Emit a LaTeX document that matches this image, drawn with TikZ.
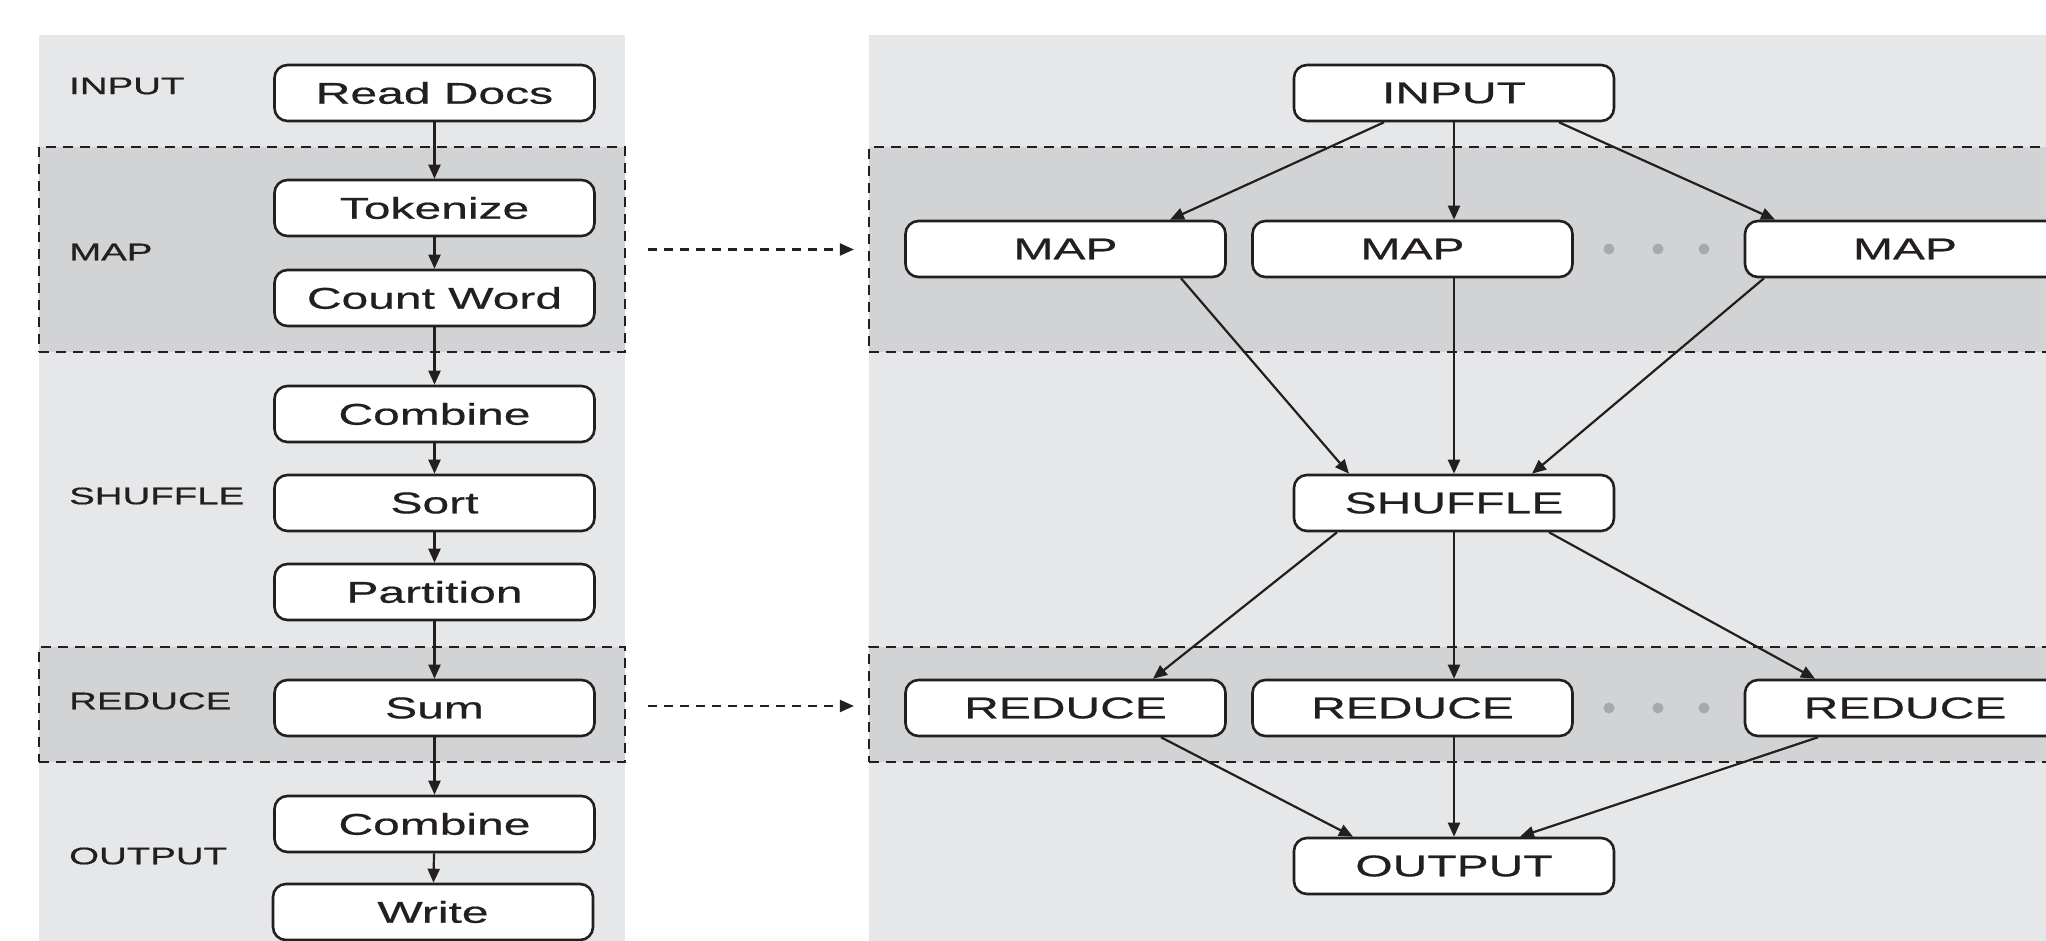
\documentclass[tikz,border=0pt]{standalone}
\usepackage{fontspec}
\setmainfont{Liberation Sans}[FakeStretch=1.6,FakeBold=0.6]
\usetikzlibrary{arrows.meta}
\definecolor{panel}{HTML}{E6E7E8}
\definecolor{bandc}{HTML}{D1D3D4}
\definecolor{ink}{HTML}{231F20}
\definecolor{dotc}{HTML}{A7A9AC}
\tikzset{
 box/.style={draw=ink, line width=2.6pt, fill=white, rounded corners=13pt, minimum width=320pt, minimum height=56pt, inner sep=0pt, font=\fontsize{30}{36}\selectfont, text=ink},
 lbl/.style={anchor=west, font=\fontsize{24}{28}\selectfont, text=ink, inner sep=0pt},
 arr/.style={draw=ink, line width=2.2pt, -{Triangle[length=14pt,width=12pt]}},
 dasharr/.style={draw=ink, line width=2.2pt, dash pattern=on 9pt off 7pt, -{Triangle[length=14pt,width=12pt]}},
 bandbox/.style={fill=bandc, draw=ink, line width=2.2pt, dash pattern=on 10pt off 7pt, inner sep=0pt},
 dotn/.style={circle, fill=dotc, minimum size=11pt, inner sep=0pt}
}
\begin{document}
\begin{tikzpicture}[x=1pt,y=-1pt]
\useasboundingbox (0,0) rectangle (2046,941);
\clip (0,0) rectangle (2046,941);
% panels
\fill[panel] (39,35) rectangle (625,980);
\fill[panel] (869,35) rectangle (2080,980);
% bands
\node[bandbox, minimum width=586pt, minimum height=205pt] (lmapband) at (332,249.5) {};
\node[bandbox, minimum width=586pt, minimum height=115pt] (lredband) at (332,704.5) {};
\node[bandbox, minimum width=1231pt, minimum height=205pt] (rmapband) at (1484.5,249.5) {};
\node[bandbox, minimum width=1231pt, minimum height=115pt] (rredband) at (1484.5,704.5) {};
% left labels
\node[lbl] (lin) at (69,86) {INPUT};
\node[lbl] (lmap) at (69,252) {MAP};
\node[lbl] (lsh) at (69,496) {SHUFFLE};
\node[lbl] (lred) at (69,701) {REDUCE};
\node[lbl] (lout) at (69,856) {OUTPUT};
% left boxes
\node[box] (rd) at (434.5,93) {Read Docs};
\node[box] (tok) at (434.5,208) {Tokenize};
\node[box] (cw) at (434.5,298) {Count Word};
\node[box] (comb1) at (434.5,414) {Combine};
\node[box] (sort) at (434.5,503) {Sort};
\node[box] (part) at (434.5,592) {Partition};
\node[box] (sum) at (434.5,708) {Sum};
\node[box] (comb2) at (434.5,824) {Combine};
\node[box] (write) at (433,912) {Write};
\draw[arr] (rd) -- (tok);
\draw[arr] (tok) -- (cw);
\draw[arr] (cw) -- (comb1);
\draw[arr] (comb1) -- (sort);
\draw[arr] (sort) -- (part);
\draw[arr] (part) -- (sum);
\draw[arr] (sum) -- (comb2);
\draw[arr] (comb2) -- (write);
% right boxes
\node[box] (in) at (1454,93) {INPUT};
\node[box] (m1) at (1065.5,249) {MAP};
\node[box] (m2) at (1412.5,249) {MAP};
\node[box] (m3) at (1905,249) {MAP};
\node[box] (sh) at (1454,503) {SHUFFLE};
\node[box] (r1) at (1065.5,708) {REDUCE};
\node[box] (r2) at (1412.5,708) {REDUCE};
\node[box] (r3) at (1905,708) {REDUCE};
\node[box] (out) at (1454,866) {OUTPUT};
% dots
\node[dotn] (d1) at (1609,249) {};
\node[dotn] (d2) at (1658,249) {};
\node[dotn] (d3) at (1704,249) {};
\node[dotn] (d4) at (1609,708) {};
\node[dotn] (d5) at (1658,708) {};
\node[dotn] (d6) at (1704,708) {};
% right arrows
\draw[arr] ([xshift=-70pt]in.south) -- ([xshift=104.5pt]m1.north);
\draw[arr] (in.south) -- ([xshift=41.5pt]m2.north);
\draw[arr] ([xshift=105pt]in.south) -- ([xshift=-130pt]m3.north);
\draw[arr] ([xshift=115.5pt]m1.south) -- ([xshift=-105pt]sh.north);
\draw[arr] ([xshift=41.5pt]m2.south) -- (sh.north);
\draw[arr] ([xshift=-141pt]m3.south) -- ([xshift=78pt]sh.north);
\draw[arr] ([xshift=-117pt]sh.south) -- ([xshift=87.5pt]r1.north);
\draw[arr] (sh.south) -- ([xshift=41.5pt]r2.north);
\draw[arr] ([xshift=95pt]sh.south) -- ([xshift=-90pt]r3.north);
\draw[arr] ([xshift=95.5pt]r1.south) -- ([xshift=-101pt]out.north);
\draw[arr] ([xshift=41.5pt]r2.south) -- (out.north);
\draw[arr] ([xshift=-87pt]r3.south) -- ([xshift=66pt]out.north);
% dashed connectors between panels
\draw[dasharr] ([xshift=22pt]lmapband.east) -- ([xshift=-14pt]rmapband.west);
\draw[dasharr] ([xshift=22pt,yshift=-1.5pt]lredband.east) -- ([xshift=-14pt,yshift=-1.5pt]rredband.west);
\end{tikzpicture}
\end{document}
